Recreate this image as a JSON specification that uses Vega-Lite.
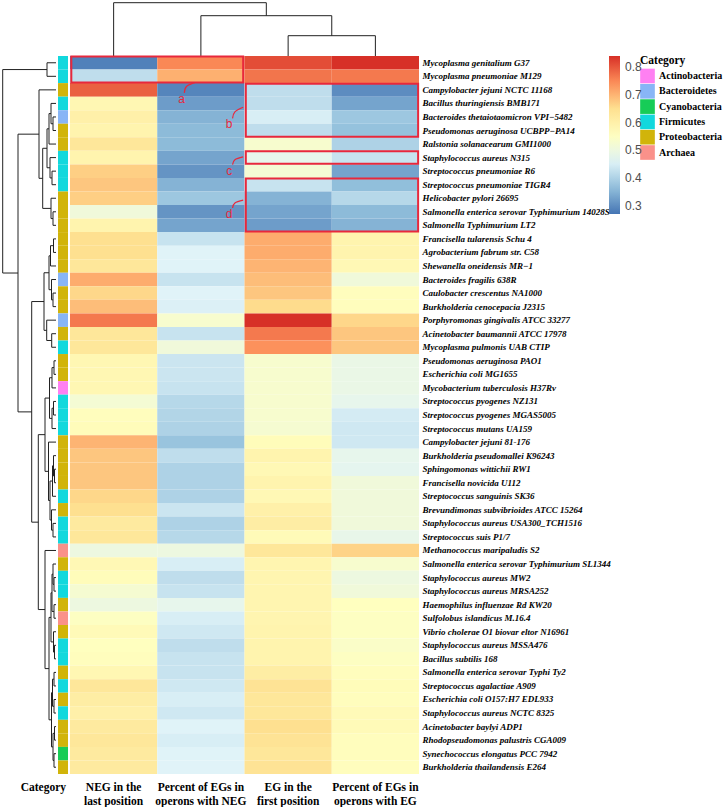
{
  "$schema": "https://vega.github.io/schema/vega-lite/v6.json",
  "padding": {"left": 2, "top": 2, "right": 0, "bottom": 0},
  "config": {"view": {"stroke": null}, "font": "Liberation Serif"},
  "columns": 3,
  "spacing": {"row": 0, "column": 2},
  "bounds": "flush",
  "datasets": {
    "strains": [
      {"s": "Mycoplasma genitalium G37", "cat": "Firmicutes", "NEG in the|last position": 0.285, "Percent of EGs in|operons with NEG": 0.75, "EG in the|first position": 0.81, "Percent of EGs in|operons with EG": 0.84},
      {"s": "Mycoplasma pneumoniae M129", "cat": "Firmicutes", "NEG in the|last position": 0.42, "Percent of EGs in|operons with NEG": 0.705, "EG in the|first position": 0.77, "Percent of EGs in|operons with EG": 0.765},
      {"s": "Campylobacter jejuni NCTC 11168", "cat": "Proteobacteria", "NEG in the|last position": 0.79, "Percent of EGs in|operons with NEG": 0.29, "EG in the|first position": 0.42, "Percent of EGs in|operons with EG": 0.30},
      {"s": "Bacillus thuringiensis BMB171", "cat": "Firmicutes", "NEG in the|last position": 0.58, "Percent of EGs in|operons with NEG": 0.32, "EG in the|first position": 0.42, "Percent of EGs in|operons with EG": 0.33},
      {"s": "Bacteroides thetaiotaomicron VPI−5482", "cat": "Bacteroidetes", "NEG in the|last position": 0.60, "Percent of EGs in|operons with NEG": 0.35, "EG in the|first position": 0.45, "Percent of EGs in|operons with EG": 0.38},
      {"s": "Pseudomonas aeruginosa UCBPP−PA14", "cat": "Proteobacteria", "NEG in the|last position": 0.59, "Percent of EGs in|operons with NEG": 0.36, "EG in the|first position": 0.42, "Percent of EGs in|operons with EG": 0.37},
      {"s": "Ralstonia solanacearum GMI1000", "cat": "Proteobacteria", "NEG in the|last position": 0.63, "Percent of EGs in|operons with NEG": 0.36, "EG in the|first position": 0.53, "Percent of EGs in|operons with EG": 0.40},
      {"s": "Staphylococcus aureus N315", "cat": "Firmicutes", "NEG in the|last position": 0.59, "Percent of EGs in|operons with NEG": 0.33, "EG in the|first position": 0.48, "Percent of EGs in|operons with EG": 0.43},
      {"s": "Streptococcus pneumoniae R6", "cat": "Firmicutes", "NEG in the|last position": 0.67, "Percent of EGs in|operons with NEG": 0.31, "EG in the|first position": 0.52, "Percent of EGs in|operons with EG": 0.33},
      {"s": "Streptococcus pneumoniae TIGR4", "cat": "Firmicutes", "NEG in the|last position": 0.68, "Percent of EGs in|operons with NEG": 0.35, "EG in the|first position": 0.43, "Percent of EGs in|operons with EG": 0.365},
      {"s": "Helicobacter pylori 26695", "cat": "Proteobacteria", "NEG in the|last position": 0.67, "Percent of EGs in|operons with NEG": 0.38, "EG in the|first position": 0.35, "Percent of EGs in|operons with EG": 0.41},
      {"s": "Salmonella enterica serovar Typhimurium 14028S", "cat": "Proteobacteria", "NEG in the|last position": 0.51, "Percent of EGs in|operons with NEG": 0.31, "EG in the|first position": 0.33, "Percent of EGs in|operons with EG": 0.36},
      {"s": "Salmonella Typhimurium LT2", "cat": "Proteobacteria", "NEG in the|last position": 0.59, "Percent of EGs in|operons with NEG": 0.33, "EG in the|first position": 0.32, "Percent of EGs in|operons with EG": 0.35},
      {"s": "Francisella tularensis Schu 4", "cat": "Proteobacteria", "NEG in the|last position": 0.65, "Percent of EGs in|operons with NEG": 0.43, "EG in the|first position": 0.71, "Percent of EGs in|operons with EG": 0.59},
      {"s": "Agrobacterium fabrum str. C58", "cat": "Proteobacteria", "NEG in the|last position": 0.65, "Percent of EGs in|operons with NEG": 0.46, "EG in the|first position": 0.71, "Percent of EGs in|operons with EG": 0.59},
      {"s": "Shewanella oneidensis MR−1", "cat": "Proteobacteria", "NEG in the|last position": 0.63, "Percent of EGs in|operons with NEG": 0.46, "EG in the|first position": 0.70, "Percent of EGs in|operons with EG": 0.575},
      {"s": "Bacteroides fragilis 638R", "cat": "Bacteroidetes", "NEG in the|last position": 0.71, "Percent of EGs in|operons with NEG": 0.43, "EG in the|first position": 0.69, "Percent of EGs in|operons with EG": 0.51},
      {"s": "Caulobacter crescentus NA1000", "cat": "Proteobacteria", "NEG in the|last position": 0.66, "Percent of EGs in|operons with NEG": 0.46, "EG in the|first position": 0.68, "Percent of EGs in|operons with EG": 0.56},
      {"s": "Burkholderia cenocepacia J2315", "cat": "Proteobacteria", "NEG in the|last position": 0.69, "Percent of EGs in|operons with NEG": 0.455, "EG in the|first position": 0.655, "Percent of EGs in|operons with EG": 0.56},
      {"s": "Porphyromonas gingivalis ATCC 33277", "cat": "Bacteroidetes", "NEG in the|last position": 0.765, "Percent of EGs in|operons with NEG": 0.53, "EG in the|first position": 0.84, "Percent of EGs in|operons with EG": 0.66},
      {"s": "Acinetobacter baumannii ATCC 17978", "cat": "Proteobacteria", "NEG in the|last position": 0.63, "Percent of EGs in|operons with NEG": 0.43, "EG in the|first position": 0.765, "Percent of EGs in|operons with EG": 0.68},
      {"s": "Mycoplasma pulmonis UAB CTIP", "cat": "Firmicutes", "NEG in the|last position": 0.63, "Percent of EGs in|operons with NEG": 0.51, "EG in the|first position": 0.74, "Percent of EGs in|operons with EG": 0.68},
      {"s": "Pseudomonas aeruginosa PAO1", "cat": "Proteobacteria", "NEG in the|last position": 0.58, "Percent of EGs in|operons with NEG": 0.435, "EG in the|first position": 0.53, "Percent of EGs in|operons with EG": 0.49},
      {"s": "Escherichia coli MG1655", "cat": "Proteobacteria", "NEG in the|last position": 0.58, "Percent of EGs in|operons with NEG": 0.435, "EG in the|first position": 0.53, "Percent of EGs in|operons with EG": 0.49},
      {"s": "Mycobacterium tuberculosis H37Rv", "cat": "Actinobacteria", "NEG in the|last position": 0.58, "Percent of EGs in|operons with NEG": 0.43, "EG in the|first position": 0.53, "Percent of EGs in|operons with EG": 0.49},
      {"s": "Streptococcus pyogenes NZ131", "cat": "Firmicutes", "NEG in the|last position": 0.52, "Percent of EGs in|operons with NEG": 0.41, "EG in the|first position": 0.53, "Percent of EGs in|operons with EG": 0.48},
      {"s": "Streptococcus pyogenes MGAS5005", "cat": "Firmicutes", "NEG in the|last position": 0.56, "Percent of EGs in|operons with NEG": 0.405, "EG in the|first position": 0.53, "Percent of EGs in|operons with EG": 0.445},
      {"s": "Streptococcus mutans UA159", "cat": "Firmicutes", "NEG in the|last position": 0.565, "Percent of EGs in|operons with NEG": 0.40, "EG in the|first position": 0.525, "Percent of EGs in|operons with EG": 0.44},
      {"s": "Campylobacter jejuni 81-176", "cat": "Proteobacteria", "NEG in the|last position": 0.70, "Percent of EGs in|operons with NEG": 0.375, "EG in the|first position": 0.565, "Percent of EGs in|operons with EG": 0.44},
      {"s": "Burkholderia pseudomallei K96243", "cat": "Proteobacteria", "NEG in the|last position": 0.68, "Percent of EGs in|operons with NEG": 0.42, "EG in the|first position": 0.59, "Percent of EGs in|operons with EG": 0.48},
      {"s": "Sphingomonas wittichii RW1", "cat": "Proteobacteria", "NEG in the|last position": 0.68, "Percent of EGs in|operons with NEG": 0.40, "EG in the|first position": 0.575, "Percent of EGs in|operons with EG": 0.475},
      {"s": "Francisella novicida U112", "cat": "Proteobacteria", "NEG in the|last position": 0.68, "Percent of EGs in|operons with NEG": 0.40, "EG in the|first position": 0.59, "Percent of EGs in|operons with EG": 0.51},
      {"s": "Streptococcus sanguinis SK36", "cat": "Firmicutes", "NEG in the|last position": 0.66, "Percent of EGs in|operons with NEG": 0.40, "EG in the|first position": 0.575, "Percent of EGs in|operons with EG": 0.51},
      {"s": "Brevundimonas subvibrioides ATCC 15264", "cat": "Proteobacteria", "NEG in the|last position": 0.65, "Percent of EGs in|operons with NEG": 0.435, "EG in the|first position": 0.60, "Percent of EGs in|operons with EG": 0.51},
      {"s": "Staphylococcus aureus USA300_TCH1516", "cat": "Firmicutes", "NEG in the|last position": 0.62, "Percent of EGs in|operons with NEG": 0.40, "EG in the|first position": 0.61, "Percent of EGs in|operons with EG": 0.51},
      {"s": "Streptococcus suis P1/7", "cat": "Firmicutes", "NEG in the|last position": 0.63, "Percent of EGs in|operons with NEG": 0.41, "EG in the|first position": 0.57, "Percent of EGs in|operons with EG": 0.485},
      {"s": "Methanococcus maripaludis S2", "cat": "Archaea", "NEG in the|last position": 0.50, "Percent of EGs in|operons with NEG": 0.50, "EG in the|first position": 0.63, "Percent of EGs in|operons with EG": 0.665},
      {"s": "Salmonella enterica serovar Typhimurium SL1344", "cat": "Proteobacteria", "NEG in the|last position": 0.575, "Percent of EGs in|operons with NEG": 0.45, "EG in the|first position": 0.585, "Percent of EGs in|operons with EG": 0.53},
      {"s": "Staphylococcus aureus MW2", "cat": "Firmicutes", "NEG in the|last position": 0.565, "Percent of EGs in|operons with NEG": 0.42, "EG in the|first position": 0.585, "Percent of EGs in|operons with EG": 0.50},
      {"s": "Staphylococcus aureus MRSA252", "cat": "Firmicutes", "NEG in the|last position": 0.525, "Percent of EGs in|operons with NEG": 0.43, "EG in the|first position": 0.585, "Percent of EGs in|operons with EG": 0.51},
      {"s": "Haemophilus influenzae Rd KW20", "cat": "Proteobacteria", "NEG in the|last position": 0.50, "Percent of EGs in|operons with NEG": 0.48, "EG in the|first position": 0.585, "Percent of EGs in|operons with EG": 0.555},
      {"s": "Sulfolobus islandicus M.16.4", "cat": "Archaea", "NEG in the|last position": 0.55, "Percent of EGs in|operons with NEG": 0.45, "EG in the|first position": 0.585, "Percent of EGs in|operons with EG": 0.55},
      {"s": "Vibrio cholerae O1 biovar eltor N16961", "cat": "Proteobacteria", "NEG in the|last position": 0.57, "Percent of EGs in|operons with NEG": 0.44, "EG in the|first position": 0.59, "Percent of EGs in|operons with EG": 0.55},
      {"s": "Staphylococcus aureus MSSA476", "cat": "Firmicutes", "NEG in the|last position": 0.555, "Percent of EGs in|operons with NEG": 0.42, "EG in the|first position": 0.59, "Percent of EGs in|operons with EG": 0.54},
      {"s": "Bacillus subtilis 168", "cat": "Firmicutes", "NEG in the|last position": 0.56, "Percent of EGs in|operons with NEG": 0.43, "EG in the|first position": 0.59, "Percent of EGs in|operons with EG": 0.55},
      {"s": "Salmonella enterica serovar Typhi Ty2", "cat": "Proteobacteria", "NEG in the|last position": 0.58, "Percent of EGs in|operons with NEG": 0.43, "EG in the|first position": 0.61, "Percent of EGs in|operons with EG": 0.56},
      {"s": "Streptococcus agalactiae A909", "cat": "Firmicutes", "NEG in the|last position": 0.63, "Percent of EGs in|operons with NEG": 0.44, "EG in the|first position": 0.64, "Percent of EGs in|operons with EG": 0.565},
      {"s": "Escherichia coli O157:H7 EDL933", "cat": "Proteobacteria", "NEG in the|last position": 0.61, "Percent of EGs in|operons with NEG": 0.45, "EG in the|first position": 0.63, "Percent of EGs in|operons with EG": 0.56},
      {"s": "Staphylococcus aureus NCTC 8325", "cat": "Firmicutes", "NEG in the|last position": 0.60, "Percent of EGs in|operons with NEG": 0.44, "EG in the|first position": 0.63, "Percent of EGs in|operons with EG": 0.57},
      {"s": "Acinetobacter baylyi ADP1", "cat": "Proteobacteria", "NEG in the|last position": 0.62, "Percent of EGs in|operons with NEG": 0.46, "EG in the|first position": 0.65, "Percent of EGs in|operons with EG": 0.57},
      {"s": "Rhodopseudomonas palustris CGA009", "cat": "Proteobacteria", "NEG in the|last position": 0.63, "Percent of EGs in|operons with NEG": 0.45, "EG in the|first position": 0.64, "Percent of EGs in|operons with EG": 0.56},
      {"s": "Synechococcus elongatus PCC 7942", "cat": "Cyanobacteria", "NEG in the|last position": 0.62, "Percent of EGs in|operons with NEG": 0.46, "EG in the|first position": 0.63, "Percent of EGs in|operons with EG": 0.56},
      {"s": "Burkholderia thailandensis E264", "cat": "Proteobacteria", "NEG in the|last position": 0.62, "Percent of EGs in|operons with NEG": 0.46, "EG in the|first position": 0.64, "Percent of EGs in|operons with EG": 0.56}
    ],
    "rowdend": [
      {"y1": 0.5, "h1": 0, "y2": 1.5, "h2": 0, "H": 9},
      {"y1": 4.5, "h1": 0, "y2": 5.5, "h2": 0, "H": 3},
      {"y1": 3.5, "h1": 0, "y2": 5.0, "h2": 3, "H": 5},
      {"y1": 4.25, "h1": 5, "y2": 6.5, "h2": 0, "H": 7},
      {"y1": 8.5, "h1": 0, "y2": 9.5, "h2": 0, "H": 4},
      {"y1": 7.5, "h1": 0, "y2": 9.0, "h2": 4, "H": 6},
      {"y1": 5.375, "h1": 7, "y2": 8.25, "h2": 6, "H": 9},
      {"y1": 11.5, "h1": 0, "y2": 12.5, "h2": 0, "H": 3},
      {"y1": 10.5, "h1": 0, "y2": 12, "h2": 3, "H": 5},
      {"y1": 6.8125, "h1": 9, "y2": 11.25, "h2": 5, "H": 13.3},
      {"y1": 2.5, "h1": 0, "y2": 9.03, "h2": 13.3, "H": 17},
      {"y1": 13.5, "h1": 0, "y2": 14.5, "h2": 0, "H": 2.5},
      {"y1": 14, "h1": 2.5, "y2": 15.5, "h2": 0, "H": 5.5},
      {"y1": 17.5, "h1": 0, "y2": 18.5, "h2": 0, "H": 3},
      {"y1": 16.5, "h1": 0, "y2": 18, "h2": 3, "H": 4.5},
      {"y1": 14.75, "h1": 5.5, "y2": 17.25, "h2": 4.5, "H": 7},
      {"y1": 20.5, "h1": 0, "y2": 21.5, "h2": 0, "H": 4.3},
      {"y1": 19.5, "h1": 0, "y2": 21, "h2": 4.3, "H": 9.3},
      {"y1": 16, "h1": 7, "y2": 20.25, "h2": 9.3, "H": 12},
      {"y1": 22.5, "h1": 0, "y2": 23.5, "h2": 0, "H": 2},
      {"y1": 23, "h1": 2, "y2": 24.5, "h2": 0, "H": 4},
      {"y1": 25.5, "h1": 0, "y2": 26.5, "h2": 0, "H": 2.5},
      {"y1": 26, "h1": 2.5, "y2": 27.5, "h2": 0, "H": 4},
      {"y1": 23.75, "h1": 4, "y2": 26.75, "h2": 4, "H": 6.5},
      {"y1": 30.5, "h1": 0, "y2": 31.5, "h2": 0, "H": 1.5},
      {"y1": 29.5, "h1": 0, "y2": 31, "h2": 1.5, "H": 2.5},
      {"y1": 30.25, "h1": 2.5, "y2": 32.5, "h2": 0, "H": 3.5},
      {"y1": 34.5, "h1": 0, "y2": 35.5, "h2": 0, "H": 3},
      {"y1": 33.5, "h1": 0, "y2": 35, "h2": 3, "H": 4.5},
      {"y1": 31.375, "h1": 3.5, "y2": 34.25, "h2": 4.5, "H": 6},
      {"y1": 28.5, "h1": 0, "y2": 32.81, "h2": 6, "H": 7.5},
      {"y1": 25.25, "h1": 6.5, "y2": 30.66, "h2": 7.5, "H": 11},
      {"y1": 38.5, "h1": 0, "y2": 39.5, "h2": 0, "H": 2},
      {"y1": 37.5, "h1": 0, "y2": 39, "h2": 2, "H": 3},
      {"y1": 40.5, "h1": 0, "y2": 41.5, "h2": 0, "H": 2},
      {"y1": 38.25, "h1": 3, "y2": 41, "h2": 2, "H": 4},
      {"y1": 43.5, "h1": 0, "y2": 44.5, "h2": 0, "H": 1.5},
      {"y1": 42.5, "h1": 0, "y2": 44, "h2": 1.5, "H": 2.5},
      {"y1": 39.625, "h1": 4, "y2": 43.25, "h2": 2.5, "H": 5},
      {"y1": 45.5, "h1": 0, "y2": 46.5, "h2": 0, "H": 2},
      {"y1": 47.5, "h1": 0, "y2": 48.5, "h2": 0, "H": 2},
      {"y1": 46, "h1": 2, "y2": 48, "h2": 2, "H": 3.5},
      {"y1": 49.5, "h1": 0, "y2": 50.5, "h2": 0, "H": 1.5},
      {"y1": 51.5, "h1": 0, "y2": 52.5, "h2": 0, "H": 2},
      {"y1": 50, "h1": 1.5, "y2": 52, "h2": 2, "H": 3},
      {"y1": 47, "h1": 3.5, "y2": 51, "h2": 3, "H": 4.5},
      {"y1": 41.44, "h1": 5, "y2": 49, "h2": 4.5, "H": 7},
      {"y1": 36.5, "h1": 0, "y2": 45.22, "h2": 7, "H": 11},
      {"y1": 27.95, "h1": 11, "y2": 40.86, "h2": 11, "H": 17.7},
      {"y1": 18.125, "h1": 12, "y2": 34.41, "h2": 17.7, "H": 24.3},
      {"y1": 5.77, "h1": 17, "y2": 26.27, "h2": 24.3, "H": 38},
      {"y1": 1.0, "h1": 9, "y2": 16.02, "h2": 38, "H": 53.3}
    ],
    "coldend": [
      {"x1": 2.5, "h1": 0, "x2": 3.5, "h2": 0, "H": 20.3},
      {"x1": 1.5, "h1": 0, "x2": 3.0, "h2": 20.3, "H": 40.3},
      {"x1": 0.5, "h1": 0, "x2": 2.25, "h2": 40.3, "H": 53.3}
    ],
    "boxes": [
      {"k": "a", "x1": 0.015, "x2": 1.985, "y1": 0.04, "y2": 1.96},
      {"k": "b", "x1": 2.015, "x2": 3.99, "y1": 2.04, "y2": 5.96},
      {"k": "c", "x1": 2.015, "x2": 3.99, "y1": 7.04, "y2": 7.96},
      {"k": "d", "x1": 2.015, "x2": 3.99, "y1": 9.04, "y2": 12.96}
    ],
    "curves": [
      {"k": "a", "o": 1, "x": 1.31, "y": 2.72},
      {"k": "a", "o": 2, "x": 1.335, "y": 2.25},
      {"k": "a", "o": 3, "x": 1.43, "y": 1.97},
      {"k": "b", "o": 1, "x": 1.863, "y": 4.6},
      {"k": "b", "o": 2, "x": 1.89, "y": 4.12},
      {"k": "b", "o": 3, "x": 1.985, "y": 3.78},
      {"k": "c", "o": 1, "x": 1.863, "y": 8.02},
      {"k": "c", "o": 2, "x": 1.89, "y": 7.66},
      {"k": "c", "o": 3, "x": 1.985, "y": 7.45},
      {"k": "d", "o": 1, "x": 1.863, "y": 11.22},
      {"k": "d", "o": 2, "x": 1.89, "y": 10.85},
      {"k": "d", "o": 3, "x": 1.985, "y": 10.64}
    ],
    "letters": [
      {"k": "a", "x": 1.28, "y": 3.15},
      {"k": "b", "x": 1.824, "y": 5.05},
      {"k": "c", "x": 1.824, "y": 8.5},
      {"k": "d", "x": 1.824, "y": 11.69}
    ]
  },
  "concat": [
    {"width": 54, "height": 54, "data": {"values": []}, "mark": "point"},
    {"width": 10, "height": 54, "data": {"values": []}, "mark": "point"},
    {
      "width": 349, "height": 54,
      "data": {"name": "coldend"},
      "layer": [
        {"mark": {"type": "rule", "color": "#222222", "strokeWidth": 1},
         "encoding": {
           "x": {"field": "x1", "type": "quantitative", "scale": {"domain": [0, 4], "nice": false, "zero": false}, "axis": null},
           "x2": {"field": "x2"},
           "y": {"field": "H", "type": "quantitative", "scale": {"domain": [0, 54], "nice": false}, "axis": null}}},
        {"mark": {"type": "rule", "color": "#222222", "strokeWidth": 1},
         "encoding": {
           "x": {"field": "x1", "type": "quantitative", "scale": {"domain": [0, 4], "nice": false, "zero": false}, "axis": null},
           "y": {"field": "h1", "type": "quantitative", "scale": {"domain": [0, 54], "nice": false}, "axis": null},
           "y2": {"field": "H"}}},
        {"mark": {"type": "rule", "color": "#222222", "strokeWidth": 1},
         "encoding": {
           "x": {"field": "x2", "type": "quantitative", "scale": {"domain": [0, 4], "nice": false, "zero": false}, "axis": null},
           "y": {"field": "h2", "type": "quantitative", "scale": {"domain": [0, 54], "nice": false}, "axis": null},
           "y2": {"field": "H"}}}
      ]
    },
    {
      "width": 54, "height": 718,
      "data": {"name": "rowdend"},
      "layer": [
        {"mark": {"type": "rule", "color": "#222222", "strokeWidth": 1},
         "encoding": {
           "x": {"field": "H", "type": "quantitative", "scale": {"domain": [0, 54], "nice": false, "reverse": true}, "axis": null},
           "y": {"field": "y1", "type": "quantitative", "scale": {"domain": [0, 53], "nice": false, "zero": false, "reverse": true}, "axis": null},
           "y2": {"field": "y2"}}},
        {"mark": {"type": "rule", "color": "#222222", "strokeWidth": 1},
         "encoding": {
           "x": {"field": "h1", "type": "quantitative", "scale": {"domain": [0, 54], "nice": false, "reverse": true}, "axis": null},
           "x2": {"field": "H"},
           "y": {"field": "y1", "type": "quantitative", "scale": {"domain": [0, 53], "nice": false, "zero": false, "reverse": true}, "axis": null}}},
        {"mark": {"type": "rule", "color": "#222222", "strokeWidth": 1},
         "encoding": {
           "x": {"field": "h2", "type": "quantitative", "scale": {"domain": [0, 54], "nice": false, "reverse": true}, "axis": null},
           "x2": {"field": "H"},
           "y": {"field": "y2", "type": "quantitative", "scale": {"domain": [0, 53], "nice": false, "zero": false, "reverse": true}, "axis": null}}}
      ]
    },
    {
      "width": 10, "height": 718,
      "data": {"name": "strains"},
      "mark": {"type": "rect"},
      "encoding": {
        "y": {"field": "s", "type": "nominal", "sort": null, "scale": {"paddingInner": 0, "paddingOuter": 0}, "axis": null},
        "x": {"datum": "Category", "type": "nominal", "scale": {"paddingInner": 0, "paddingOuter": 0},
              "axis": {"title": null, "domain": false, "ticks": false, "labelAngle": 0, "labelAlign": "right", "labelOffset": 3, "labelBaseline": "top", "labelPadding": 7, "labelFont": "Liberation Serif", "labelFontWeight": "bold", "labelFontSize": 11.5, "labelColor": "#000000"}},
        "fill": {"field": "cat", "type": "nominal",
                 "scale": {"domain": ["Actinobacteria", "Bacteroidetes", "Cyanobacteria", "Firmicutes", "Proteobacteria", "Archaea"],
                           "range": ["#FF80F2", "#88B5F6", "#17CC57", "#12D8DD", "#D1B40A", "#FA918A"]},
                 "legend": {"orient": "none", "legendX": 638, "legendY": 53, "title": "Category", "titleFont": "Liberation Serif", "titleFontSize": 11.5, "titleFontWeight": "bold", "titleColor": "#000000", "titlePadding": 2, "labelFont": "Liberation Serif", "labelFontWeight": "bold", "labelFontSize": 10, "labelColor": "#000000", "labelOffset": 4, "symbolType": "square", "symbolSize": 215, "symbolStrokeWidth": 0, "symbolOpacity": 1, "rowPadding": 0.3}}
      }
    },
    {
      "width": 349, "height": 718,
      "resolve": {"scale": {"x": "independent", "y": "independent"}},
      "layer": [
        {
          "data": {"name": "strains"},
          "transform": [{"fold": ["NEG in the|last position", "Percent of EGs in|operons with NEG", "EG in the|first position", "Percent of EGs in|operons with EG"], "as": ["m", "v"]}],
          "mark": {"type": "rect"},
          "encoding": {
            "x": {"field": "m", "type": "nominal", "sort": ["NEG in the|last position", "Percent of EGs in|operons with NEG", "EG in the|first position", "Percent of EGs in|operons with EG"],
                  "scale": {"paddingInner": 0, "paddingOuter": 0},
                  "axis": {"title": null, "domain": false, "ticks": false, "labelAngle": 0, "labelBaseline": "top", "labelPadding": 7, "labelLineHeight": 14, "labelFont": "Liberation Serif", "labelFontWeight": "bold", "labelFontSize": 11.5, "labelColor": "#000000", "labelExpr": "split(datum.label, '|')"}},
            "y": {"field": "s", "type": "nominal", "sort": null, "scale": {"paddingInner": 0, "paddingOuter": 0},
                  "axis": {"orient": "right", "title": null, "domain": false, "ticks": false, "labelPadding": 3, "labelFont": "Liberation Serif", "labelFontStyle": "italic", "labelFontWeight": "bold", "labelFontSize": 9, "labelColor": "#000000", "labelLimit": 400}},
            "color": {"field": "v", "type": "quantitative",
                      "scale": {"domain": [0.27, 0.365, 0.46, 0.555, 0.65, 0.745, 0.84], "range": ["#4575B4", "#91BFDB", "#E0F3F8", "#FFFFBF", "#FEE090", "#FC8D59", "#D73027"], "interpolate": "rgb"},
                      "legend": {"orient": "none", "legendX": 607, "legendY": 54, "title": null, "direction": "vertical", "gradientLength": 158, "gradientThickness": 11, "gradientStrokeWidth": 0, "values": [0.3, 0.4, 0.5, 0.6, 0.7, 0.8], "format": ".1f", "labelOverlap": false, "labelFont": "Liberation Sans", "labelFontSize": 12, "labelColor": "#4D4D4D", "labelOffset": 5}}
          }
        },
        {
          "data": {"name": "boxes"},
          "mark": {"type": "rect", "filled": false, "color": "#E8283C", "strokeWidth": 2},
          "encoding": {
            "x": {"field": "x1", "type": "quantitative", "scale": {"domain": [0, 4], "nice": false, "zero": false}, "axis": null},
            "x2": {"field": "x2"},
            "y": {"field": "y1", "type": "quantitative", "scale": {"domain": [0, 53], "nice": false, "zero": false, "reverse": true}, "axis": null},
            "y2": {"field": "y2"}
          }
        },
        {
          "data": {"name": "curves"},
          "mark": {"type": "line", "color": "#E8283C", "strokeWidth": 1.2, "interpolate": "natural"},
          "encoding": {
            "x": {"field": "x", "type": "quantitative", "scale": {"domain": [0, 4], "nice": false, "zero": false}, "axis": null},
            "y": {"field": "y", "type": "quantitative", "scale": {"domain": [0, 53], "nice": false, "zero": false, "reverse": true}, "axis": null},
            "detail": {"field": "k"},
            "order": {"field": "o"}
          }
        },
        {
          "data": {"name": "letters"},
          "mark": {"type": "text", "color": "#E8283C", "font": "Liberation Sans", "fontSize": 12, "align": "center", "baseline": "middle"},
          "encoding": {
            "x": {"field": "x", "type": "quantitative", "scale": {"domain": [0, 4], "nice": false, "zero": false}, "axis": null},
            "y": {"field": "y", "type": "quantitative", "scale": {"domain": [0, 53], "nice": false, "zero": false, "reverse": true}, "axis": null},
            "text": {"field": "k"}
          }
        }
      ]
    }
  ]
}
